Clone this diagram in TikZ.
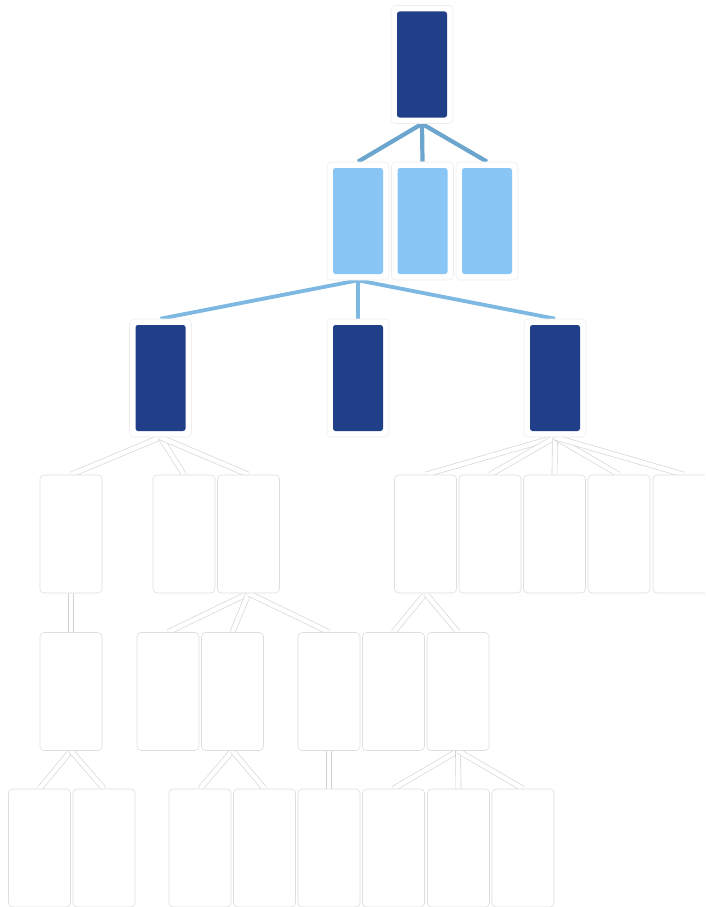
\documentclass[tikz,border=0pt]{standalone}
\usetikzlibrary{backgrounds}
\definecolor{navy}{HTML}{213F88}
\definecolor{skyfill}{HTML}{8AC6F5}
\definecolor{topedge}{HTML}{6CA5CD}
\definecolor{midedge}{HTML}{7DB8E2}
\tikzset{
box/.style={draw=black!13,line width=0.6pt,fill=white,rounded corners=4pt,minimum width=62pt,minimum height=118pt,inner sep=0pt},
darkbox/.style={box,draw=black!7,path picture={\fill[navy,rounded corners=2.5pt]([shift={(6pt,-6pt)}]path picture bounding box.north west) rectangle ([shift={(-6pt,6pt)}]path picture bounding box.south east);}},
skybox/.style={box,draw=black!7,path picture={\fill[skyfill,rounded corners=2.5pt]([shift={(6pt,-6pt)}]path picture bounding box.north west) rectangle ([shift={(-6pt,6pt)}]path picture bounding box.south east);}},
topline/.style={topedge,line width=4.2pt},
midline/.style={midedge,line width=3.8pt},
lowline/.style={draw=black!18,line width=0.6pt,double=white,double distance=4.5pt}
}
\begin{document}
\begin{tikzpicture}[x=1pt,y=-1pt]
\useasboundingbox (0,0) rectangle (705,907);
\clip (0,0) rectangle (705,907);
% level 1 and 2
\node[darkbox](r) at (422,64.5){};
\node[skybox](s1) at (358,221){};
\node[skybox](s2) at (422.5,221){};
\node[skybox](s3) at (487,221){};
% level 3
\node[darkbox](a1) at (160.5,378){};
\node[darkbox](a2) at (358,378){};
\node[darkbox](a3) at (555,378){};
% level 4
\foreach \n/\x in {b1/71,b2/184,b3/248.5,b4/425.5,b5/490,b6/554.5,b7/619,b8/684}
  \node[box](\n) at (\x,534){};
% level 5
\foreach \n/\x in {c1/71,c2/168,c3/232.5,c4/329,c5/393.5,c6/458}
  \node[box](\n) at (\x,691.5){};
% level 6
\foreach \n/\x in {d1/39.5,d2/104,d3/200,d4/264.5,d5/329,d6/393.5,d7/458.5,d8/523}
  \node[box](\n) at (\x,848){};
\begin{scope}[on background layer]
\foreach \x/\y in {r/s1,r/s2,r/s3} \draw[topline](\x.south)--(\y.north);
\foreach \x/\y in {s1/a1,s1/a2,s1/a3} \draw[midline](\x.south)--(\y.north);
\foreach \x/\y in {a1/b1,a1/b2,a1/b3,a3/b4,a3/b5,a3/b6,a3/b7,a3/b8,b1/c1,b3/c2,b3/c3,b3/c4,b4/c5,b4/c6,c1/d1,c1/d2,c3/d3,c3/d4,c4/d5,c6/d6,c6/d7,c6/d8}
  \draw[lowline](\x.south)--(\y.north);
\end{scope}
\end{tikzpicture}
\end{document}
